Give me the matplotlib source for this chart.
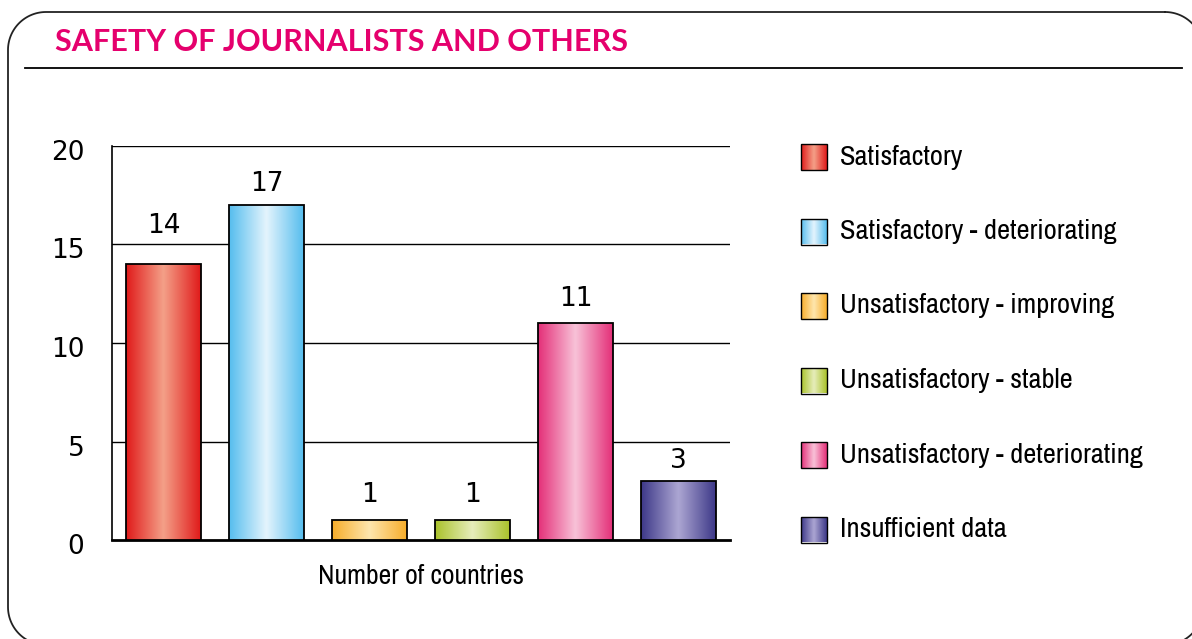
import numpy as np
import matplotlib
matplotlib.use("Agg")
import matplotlib.pyplot as plt
from matplotlib import font_manager
from matplotlib.transforms import ScaledTranslation
from matplotlib.colors import LinearSegmentedColormap
from matplotlib.patches import Rectangle

# data
categories = ["Satisfactory", "Satisfactory - deteriorating", "Unsatisfactory - improving",
              "Unsatisfactory - stable", "Unsatisfactory - deteriorating", "Insufficient data"]
counts = [14, 17, 1, 1, 11, 3]
edge_colors = ["#e01a1a", "#55bdee", "#f7ad2a", "#aac22a", "#e42f78", "#3d3888"]
center_colors = ["#f4a088", "#e4f4fd", "#fee6ae", "#e6edbb", "#f8c2d8", "#aca6d3"]
yticks = [0, 5, 10, 15, 20]

# look for a narrow face (the original uses a condensed sans)
fonts = font_manager.fontManager.ttflist
narrow, scale = "DejaVu Sans", 0.8
for f in fonts:
    if "Narrow" in f.name or "Condensed" in f.name:
        narrow, scale = f.name, 1.0
        break
names = {f.name for f in fonts}
title_font = "Lato" if "Lato" in names else "DejaVu Sans"

W, H = 1192, 639
fig = plt.figure(figsize=(W / 100, H / 100), dpi=100)

# overlay axes in pixel units for frame, title and legend
lax = fig.add_axes([0, 0, 1, 1])
lax.axis("off")


def rounded_box(x0, y0, x1, y1, r):
    t = np.linspace(0, np.pi / 2, 30)
    pts = []
    for cx, cy, a0 in [(x1 - r, y0 + r, -np.pi / 2), (x1 - r, y1 - r, 0),
                       (x0 + r, y1 - r, np.pi / 2), (x0 + r, y0 + r, np.pi)]:
        pts.append(np.c_[cx + r * np.cos(a0 + t), cy + r * np.sin(a0 + t)])
    pts = np.vstack(pts + [pts[0][:1]])
    return pts[:, 0], pts[:, 1]


bx, by = rounded_box(8, 12, 1203, 645, 38)
lax.plot(bx, by, color="#222222", lw=1.3)
lax.plot([25, 1182], [68, 68], color="black", lw=1.3)
lax.text(55, 42, "SAFETY OF JOURNALISTS AND OTHERS", color="#e5006d",
         fontsize=22, fontweight="bold", family=title_font, va="center", ha="left")

ax = fig.add_axes([112 / W, 1 - 540 / H, 618 / W, 394 / H])
x = np.arange(len(categories))
ax.set_yticks(yticks)
ax.set_xticks([])
ax.tick_params(axis="y", length=0, pad=20, labelsize=19)
# numbers sit a touch below their gridlines in the original
for lab in ax.get_yticklabels():
    lab.set_transform(lab.get_transform() + ScaledTranslation(0, -4 / 100, fig.dpi_scale_trans))
for s in ["top", "right"]:
    ax.spines[s].set_visible(False)
ax.spines["left"].set_linewidth(1.2)
ax.spines["bottom"].set_linewidth(2)
for v in yticks[1:]:
    ax.axhline(v, color="black", lw=1, zorder=1)


def gradient_rect(a, x0, y0, w, h, c_edge, c_mid, lw=1.3):
    cmap = LinearSegmentedColormap.from_list("g", [c_edge, c_mid, c_edge])
    grad = np.linspace(0, 1, 256).reshape(1, -1)
    im = a.imshow(grad, cmap=cmap, extent=[x0, x0 + w, y0, y0 + h],
                  aspect="auto", zorder=3, interpolation="bicubic")
    r = Rectangle((x0, y0), w, h, fill=False, ec="black", lw=lw, zorder=4)
    a.add_patch(r)
    im.set_clip_path(r)


# the "14" label sits above the 15 gridline in the original
label_pad = [18, 6, 9, 9, 8, 5]
bars = ax.bar(x, counts, width=0.72, color="none", edgecolor="none")
for b, ce, cm, n, p in zip(bars, edge_colors, center_colors, counts, label_pad):
    gradient_rect(ax, b.get_x(), 0, b.get_width(), b.get_height(), ce, cm)
    ax.annotate(str(n), (b.get_x() + b.get_width() / 2, n), xytext=(0, p),
                textcoords="offset points", ha="center", va="bottom", fontsize=19)
ax.set_xlim(-0.5, len(categories) - 0.5)
ax.set_ylim(0, 20)
ax.set_xlabel("Number of countries", fontsize=20 * scale, labelpad=17, family=narrow)

# legend drawn by hand
for i, (name, ce, cm) in enumerate(zip(categories, edge_colors, center_colors)):
    yc = 157 + i * 74.5
    gradient_rect(lax, 801, yc - 13, 26, 26, ce, cm, lw=1)
    lax.text(840, yc, name, fontsize=20.5 * scale, va="center", ha="left", family=narrow)
lax.set_xlim(0, W)
lax.set_ylim(H, 0)

fig.savefig("out.png", dpi=100)
